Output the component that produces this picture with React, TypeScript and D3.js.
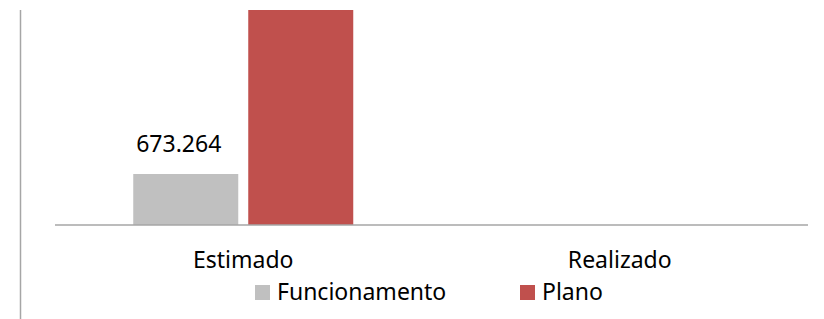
import { useEffect, useRef } from 'react'
import * as d3 from 'd3'

const categories = ['Estimado', 'Realizado']
const seriesNames = ['Funcionamento', 'Plano']
const funcionamento = [673.264, 0]
const plano = [2838, 0]
const colors = ['#c0c0c0', '#c0504d']
const valueLabels = ['673.264', null]

const W = 824, H = 319

export default function App() {
  const svgRef = useRef<SVGSVGElement>(null)

  useEffect(() => {
    const svg = d3.select(svgRef.current)
    svg.selectAll('*').remove()
    const font = '"Noto Sans", sans-serif'
    const fs = 23

    const x0 = d3.scaleBand<string>().domain(categories).range([55, 808]).paddingInner(0).paddingOuter(0)
    const x1 = d3.scaleBand<string>().domain(seriesNames).range([-110, 110]).paddingInner(10 / 115).paddingOuter(0)
    const y = d3.scaleLinear().domain([0, 2838]).range([225, 10])

    // vertical axis line
    svg.append('line')
      .attr('x1', 20.5).attr('x2', 20.5).attr('y1', 10).attr('y2', H)
      .attr('stroke', '#a6a6a6').attr('stroke-width', 1.5)

    const series = [funcionamento, plano]
    categories.forEach((c, i) => {
      const cx = x0(c)! + x0.bandwidth() / 2
      series.forEach((vals, s) => {
        const v = vals[i]
        if (!v) return
        svg.append('rect')
          .attr('x', cx + x1(seriesNames[s])!)
          .attr('width', x1.bandwidth())
          .attr('y', y(v))
          .attr('height', y(0) - y(v))
          .attr('fill', colors[s])
      })
      const lbl = valueLabels[i]
      if (lbl) {
        svg.append('text')
          .attr('x', cx + x1(seriesNames[0])! + x1.bandwidth() / 2 - 7)
          .attr('y', y(funcionamento[i]) - 22)
          .attr('text-anchor', 'middle')
          .attr('font-family', font).attr('font-size', fs).attr('fill', '#000')
          .text(lbl)
      }
      svg.append('text')
        .attr('x', cx).attr('y', 268)
        .attr('text-anchor', 'middle')
        .attr('font-family', font).attr('font-size', fs).attr('fill', '#000')
        .text(c)
    })

    // baseline
    svg.append('line')
      .attr('x1', 55).attr('x2', 808).attr('y1', y(0)).attr('y2', y(0))
      .attr('stroke', '#a6a6a6').attr('stroke-width', 1.5)

    // legend
    const legendX = [255, 520]
    seriesNames.forEach((n, s) => {
      svg.append('rect')
        .attr('x', legendX[s]).attr('y', 285).attr('width', 15).attr('height', 15)
        .attr('fill', colors[s])
      svg.append('text')
        .attr('x', legendX[s] + 22).attr('y', 300)
        .attr('font-family', font).attr('font-size', fs).attr('fill', '#000')
        .text(n)
    })
  }, [])

  return (
    <svg ref={svgRef} width={W} height={H}
      style={{ position: 'absolute', left: 0, top: 0, background: '#fff' }} />
  )
}
